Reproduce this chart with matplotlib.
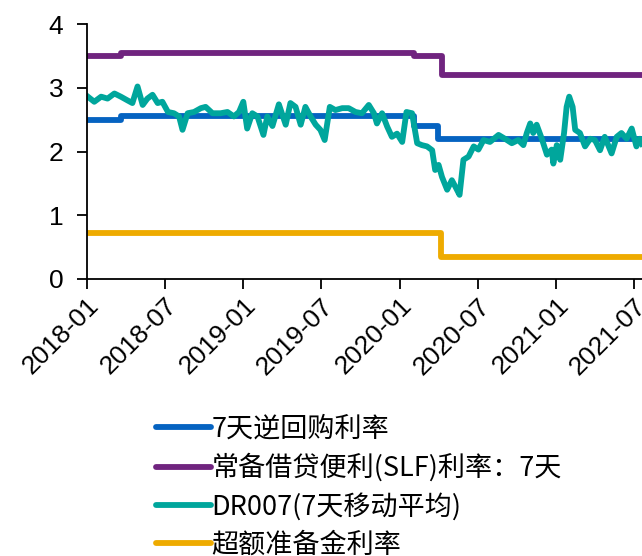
import numpy as np
import pandas as pd
import matplotlib
matplotlib.use('Agg')
import matplotlib.pyplot as plt
import matplotlib.dates as mdates

# 政策利率（阶梯）
repo_dates = ['2018-01-01', '2018-03-22', '2020-02-03', '2020-03-30', '2021-07-20']
repo_vals = [2.50, 2.55, 2.40, 2.20, 2.20]

slf_dates = ['2018-01-01', '2018-03-22', '2020-02-03', '2020-04-10', '2021-07-20']
slf_vals = [3.50, 3.55, 3.50, 3.20, 3.20]

ioer_dates = ['2018-01-01', '2020-04-07', '2021-07-20']
ioer_vals = [0.72, 0.35, 0.35]

# DR007 7天移动平均
dr_dates = [
    '2018-01-03', '2018-01-18', '2018-02-03', '2018-02-18', '2018-03-06', '2018-03-21',
    '2018-04-06', '2018-04-17', '2018-04-29', '2018-05-11', '2018-05-22', '2018-06-03',
    '2018-06-15', '2018-06-26', '2018-07-09', '2018-07-23', '2018-08-04', '2018-08-12',
    '2018-08-24', '2018-09-08', '2018-09-24', '2018-10-05', '2018-10-21', '2018-11-09',
    '2018-11-25', '2018-12-10', '2018-12-22', '2019-01-01', '2019-01-10', '2019-01-22',
    '2019-02-03', '2019-02-17', '2019-02-26', '2019-03-10', '2019-03-25', '2019-04-10',
    '2019-04-21', '2019-05-03', '2019-05-15', '2019-05-26', '2019-06-07', '2019-06-19',
    '2019-06-30', '2019-07-10', '2019-07-22', '2019-08-04', '2019-08-20', '2019-09-04',
    '2019-09-20', '2019-10-05', '2019-10-21', '2019-11-02', '2019-11-09', '2019-11-21',
    '2019-12-03', '2019-12-14', '2019-12-26', '2020-01-07', '2020-01-17', '2020-01-30',
    '2020-02-11', '2020-02-22', '2020-03-05', '2020-03-17', '2020-03-24', '2020-04-01',
    '2020-04-09', '2020-04-21', '2020-05-02', '2020-05-10', '2020-05-20', '2020-05-29',
    '2020-06-10', '2020-06-22', '2020-07-03', '2020-07-15', '2020-07-30', '2020-08-19',
    '2020-09-03', '2020-09-19', '2020-10-04', '2020-10-16', '2020-10-24', '2020-11-01',
    '2020-11-08', '2020-11-16', '2020-11-28', '2020-12-10', '2020-12-21', '2020-12-25',
    '2021-01-02', '2021-01-10', '2021-01-19', '2021-01-25', '2021-01-31', '2021-02-08',
    '2021-02-14', '2021-02-25', '2021-03-09', '2021-03-21', '2021-04-01', '2021-04-13',
    '2021-04-24', '2021-05-10', '2021-05-22', '2021-06-02', '2021-06-14', '2021-06-26',
    '2021-07-07', '2021-07-15', '2021-07-20',
]
dr_vals = [
    2.86, 2.78, 2.86, 2.83, 2.91, 2.86,
    2.80, 2.76, 3.02, 2.73, 2.83, 2.89,
    2.76, 2.78, 2.62, 2.60, 2.55, 2.34,
    2.60, 2.62, 2.68, 2.70, 2.60, 2.60,
    2.62, 2.55, 2.62, 2.78, 2.36, 2.60,
    2.55, 2.26, 2.55, 2.40, 2.74, 2.42,
    2.76, 2.70, 2.42, 2.70, 2.55, 2.42,
    2.34, 2.18, 2.70, 2.65, 2.68, 2.68,
    2.62, 2.60, 2.73, 2.60, 2.44, 2.60,
    2.39, 2.23, 2.28, 2.15, 2.62, 2.60,
    2.13, 2.10, 2.08, 2.02, 1.71, 1.79,
    1.60, 1.40, 1.55, 1.45, 1.32, 1.87,
    1.92, 2.08, 2.03, 2.18, 2.15, 2.26,
    2.20, 2.13, 2.18, 2.10, 2.29, 2.44,
    2.29, 2.42, 2.20, 1.95, 2.03, 1.81,
    2.10, 1.87, 2.29, 2.70, 2.86, 2.70,
    2.34, 2.29, 2.08, 2.20, 2.18, 2.02,
    2.23, 1.97, 2.23, 2.29, 2.20, 2.36,
    2.08, 2.20, 2.12,
]

labels = ['7天逆回购利率', '常备借贷便利(SLF)利率：7天', 'DR007(7天移动平均)', '超额准备金利率']
colors = ['#0563C1', '#70247F', '#00A69C', '#EEAB00']

fig = plt.figure(figsize=(6.42, 5.56), dpi=100)
ax = fig.add_axes([87 / 642, 1 - 279 / 556, 1 - 87 / 642, 255 / 556])

lw = 4.2
ax.step(pd.to_datetime(repo_dates), repo_vals, where='post', color=colors[0], lw=lw, label=labels[0])
ax.step(pd.to_datetime(slf_dates), slf_vals, where='post', color=colors[1], lw=lw, label=labels[1])
ax.plot(pd.to_datetime(dr_dates), dr_vals, color=colors[2], lw=lw, label=labels[2], solid_joinstyle='round')
ax.step(pd.to_datetime(ioer_dates), ioer_vals, where='post', color=colors[3], lw=lw, label=labels[3])

ax.set_xlim(pd.Timestamp('2018-01-01'), pd.Timestamp('2021-07-20'))
ax.set_ylim(0, 4)
ax.set_yticks([0, 1, 2, 3, 4])
ax.xaxis.set_major_locator(mdates.MonthLocator(bymonth=[1, 7]))
ax.xaxis.set_major_formatter(mdates.DateFormatter('%Y-%m'))

for s in ['top', 'right']:
    ax.spines[s].set_visible(False)
for s in ['left', 'bottom']:
    ax.spines[s].set_linewidth(1.3)
ax.tick_params(axis='both', direction='out', length=7, width=1.3, labelsize=19)
for t in ax.get_xticklabels():
    t.set_rotation(45)
    t.set_ha('right')
    t.set_rotation_mode('anchor')
    t.set_fontfamily('Liberation Sans')
for t in ax.get_yticklabels():
    t.set_fontfamily('Liberation Sans')
ax.tick_params(axis='y', pad=10)

leg = fig.legend(loc='upper left', bbox_to_anchor=(145 / 642, 1 - 405 / 556), frameon=False,
                 prop={'family': ['Noto Sans CJK SC', 'DejaVu Sans'], 'size': 19.5},
                 handlelength=2.05, handletextpad=0.0, labelspacing=0.40, borderaxespad=0)
for h in leg.get_lines():
    h.set_linewidth(4.2)
    h.set_solid_capstyle('round')

fig.savefig('out.png', dpi=100)
